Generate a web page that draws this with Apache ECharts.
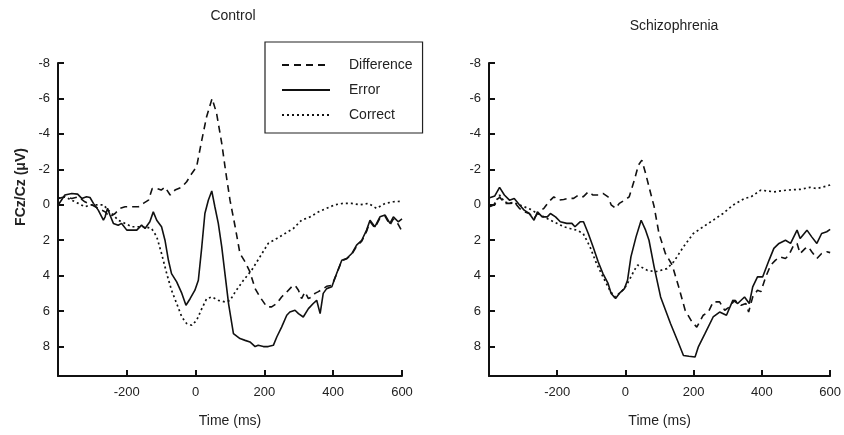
<!DOCTYPE html>
<html>
<head>
<meta charset="utf-8">
<script src="https://cdn.jsdelivr.net/npm/echarts@6/dist/echarts.min.js"></script>
<style>
  html, body { margin: 0; padding: 0; background: #fff; }
  #main { width: 844px; height: 435px; }
</style>
</head>
<body>
<div id="main"></div>
<script>
// time (ms) / amplitude (uV) pairs; negative is drawn up
var xTicks = [-200, 0, 200, 400, 600];
var yTicks = [-8, -6, -4, -2, 0, 2, 4, 6, 8];
var seriesNames = ['Difference', 'Error', 'Correct'];
var panelTitles = ['Control', 'Schizophrenia'];

var controlDifference = [[-399,-0.36],[-380,-0.45],[-360,-0.36],[-341,-0.45],[-322,-0.17],[-302,0],[-283,0.2],[-263,0.4],[-249,0.68],[-234,0.49],[-220,0.2],[-205,0.11],[-186,0.11],[-166,0.11],[-152,-0.08],[-137,-0.26],[-126,-0.92],[-113,-0.92],[-100,-0.83],[-89,-1.0],[-74,-0.55],[-60,-0.83],[-40,-1.0],[-26,-1.3],[-11,-1.77],[3,-2.15],[18,-3.65],[32,-4.97],[48,-6.0],[61,-5.16],[76,-3.47],[88,-1.8],[100,-0.26],[115,1.24],[129,2.75],[144,3.22],[158,3.79],[173,4.73],[187,5.2],[207,5.76],[221,5.76],[236,5.57],[250,5.2],[265,4.92],[279,4.63],[289,4.54],[299,4.82],[308,5.29],[318,4.92],[328,5.29],[337,5.2],[347,5.0],[357,4.9],[371,4.73],[381,4.6],[396,4.55],[410,3.9],[425,3.15],[439,3.05],[454,2.8],[468,2.35],[483,2.05],[497,1.5],[507,0.95],[521,1.3],[536,0.75],[551,0.65],[565,1.15],[575,0.8],[589,1.1],[600,1.5]];
var controlError = [[-399,0],[-380,-0.55],[-360,-0.64],[-343,-0.6],[-331,-0.36],[-317,-0.45],[-307,-0.41],[-297,-0.08],[-283,0.3],[-268,0.87],[-263,0.68],[-256,0.2],[-249,0.58],[-239,1.05],[-225,1.15],[-215,1.05],[-200,1.43],[-186,1.43],[-171,1.43],[-157,1.15],[-147,1.34],[-133,0.96],[-123,0.4],[-113,0.87],[-99,1.24],[-89,2.0],[-79,3.13],[-70,3.88],[-55,4.35],[-40,5.0],[-28,5.67],[-16,5.3],[-2,4.82],[8,4.26],[18,2.37],[27,0.49],[37,-0.26],[47,-0.78],[56,0.11],[66,1.05],[76,2.37],[86,4.0],[96,5.6],[110,7.27],[129,7.55],[144,7.65],[158,7.74],[173,8.0],[182,7.93],[197,8.0],[211,8.0],[226,7.93],[236,7.46],[250,6.9],[265,6.23],[274,6.05],[289,5.95],[299,6.14],[313,6.33],[328,5.86],[342,5.57],[352,5.39],[362,6.14],[371,5.0],[381,4.73],[396,4.63],[410,3.88],[425,3.13],[439,3.03],[454,2.75],[468,2.28],[483,2.0],[497,1.43],[507,0.87],[521,1.24],[536,0.68],[551,0.58],[565,1.05],[575,0.68],[589,0.96],[600,0.8]];
var controlCorrect = [[-399,-0.36],[-380,-0.45],[-360,-0.26],[-341,-0.08],[-322,0.11],[-302,0],[-283,0],[-268,0],[-254,0.3],[-239,0.58],[-225,0.87],[-205,1.05],[-186,1.24],[-166,1.24],[-147,1.24],[-128,1.34],[-113,1.8],[-99,2.75],[-84,3.88],[-70,4.82],[-55,5.57],[-40,6.33],[-26,6.7],[-11,6.8],[3,6.52],[18,5.86],[32,5.3],[47,5.2],[66,5.39],[85,5.48],[100,5.4],[115,4.92],[139,4.26],[163,3.69],[187,2.94],[211,2.18],[236,1.9],[260,1.62],[284,1.34],[308,0.87],[333,0.68],[357,0.4],[381,0.2],[405,0],[429,-0.08],[454,-0.08],[478,0],[502,-0.08],[526,0.2],[551,-0.08],[575,-0.17],[600,-0.2]];

var schizDifference = [[-398,0.1],[-383,0],[-369,-0.45],[-355,-0.08],[-340,-0.08],[-326,-0.17],[-311,0.2],[-297,0.4],[-282,0.49],[-268,0.77],[-254,0.4],[-239,0.2],[-225,-0.17],[-210,-0.45],[-196,-0.26],[-181,-0.3],[-167,-0.36],[-152,-0.36],[-138,-0.55],[-124,-0.45],[-109,-0.73],[-95,-0.55],[-80,-0.55],[-66,-0.64],[-51,-0.45],[-42,0],[-29,0.2],[-18,-0.08],[-3,-0.26],[11,-0.45],[26,-1.39],[38,-2.24],[48,-2.52],[59,-1.77],[74,-0.64],[84,0.1],[98,1.6],[117,2.75],[137,3.4],[156,4.63],[175,5.95],[195,6.61],[209,6.9],[228,6.23],[243,6.05],[257,5.48],[276,5.48],[291,5.95],[305,5.76],[320,5.38],[339,5.67],[353,5.57],[361,6.05],[373,5.2],[387,4.82],[397,4.9],[411,4.07],[426,3.4],[440,3.12],[454,2.94],[469,3.03],[479,2.84],[493,2.28],[503,2.18],[512,2.75],[527,2.46],[536,2.37],[546,2.65],[561,3.03],[575,2.75],[590,2.65],[600,2.7]];
var schizError = [[-398,-0.4],[-383,-0.5],[-369,-0.98],[-355,-0.55],[-340,-0.26],[-326,-0.36],[-311,0],[-297,0.3],[-282,0.49],[-268,0.87],[-258,0.4],[-244,0.68],[-229,0.68],[-220,0.49],[-205,0.68],[-191,0.96],[-172,1.05],[-157,1.05],[-148,1.24],[-133,0.96],[-123,0.96],[-109,1.62],[-95,2.37],[-80,3.22],[-66,3.88],[-51,4.44],[-42,5.0],[-29,5.29],[-18,5.0],[-3,4.73],[6,4.26],[16,2.94],[31,1.81],[46,0.87],[59,1.43],[69,2.0],[84,3.5],[103,5.2],[132,6.7],[156,7.83],[170,8.5],[186,8.55],[204,8.59],[214,8.0],[233,7.27],[257,6.33],[276,6.05],[296,6.23],[315,5.38],[329,5.57],[349,5.2],[363,5.57],[373,4.63],[387,4.07],[402,4.07],[421,3.12],[435,2.46],[450,2.18],[469,2.0],[484,2.18],[503,1.43],[512,1.9],[532,1.43],[546,1.81],[561,2.18],[575,1.62],[590,1.52],[600,1.39]];
var schizCorrect = [[-398,0.1],[-383,-0.08],[-369,-0.55],[-355,-0.17],[-340,-0.08],[-326,-0.1],[-311,0],[-297,0.11],[-278,0.26],[-258,0.49],[-239,0.68],[-220,0.87],[-200,1.05],[-181,1.24],[-162,1.34],[-143,1.43],[-124,1.62],[-104,2.37],[-85,3.31],[-66,4.07],[-46,4.82],[-32,5.2],[-18,5.0],[-3,4.73],[11,4.26],[26,3.69],[36,3.4],[50,3.55],[64,3.7],[88,3.78],[122,3.6],[142,3.2],[170,2.37],[199,1.62],[228,1.24],[257,0.87],[286,0.49],[315,0.02],[320,-0.08],[349,-0.36],[368,-0.45],[397,-0.83],[435,-0.73],[474,-0.83],[512,-0.87],[541,-0.98],[561,-0.92],[590,-1.06],[600,-1.12]];

var FONT = '"Liberation Sans", Arial, sans-serif';
var INK = '#111';

var lineStyles = {
  Difference: { color: INK, width: 1.6, type: [7, 5] },
  Error: { color: INK, width: 1.6, type: 'solid' },
  Correct: { color: INK, width: 1.7, type: [2, 3] }
};

function makeX(idx) {
  return {
    type: 'value', gridIndex: idx, min: -400, max: 600, interval: 200,
    name: 'Time (ms)', nameLocation: 'middle', nameGap: 38,
    nameTextStyle: { fontSize: 14, color: '#222', fontFamily: FONT },
    axisLine: { show: true, onZero: false, lineStyle: { color: INK, width: 2 } },
    axisTick: { show: true, inside: true, length: 6, lineStyle: { color: INK, width: 2 } },
    axisLabel: {
      color: '#222', fontSize: 13, margin: 10, fontFamily: FONT,
      formatter: function (v) { return xTicks.indexOf(v) >= 0 ? String(v) : ''; }
    },
    splitLine: { show: false }
  };
}

function makeY(idx) {
  return {
    type: 'value', gridIndex: idx, inverse: true, min: -8, max: 9.66, interval: 2,
    axisLine: { show: true, onZero: false, lineStyle: { color: INK, width: 2 } },
    axisTick: { show: true, inside: true, length: 6, lineStyle: { color: INK, width: 2 } },
    axisLabel: {
      color: '#222', fontSize: 13, margin: 8, fontFamily: FONT,
      formatter: function (v) { return yTicks.indexOf(v) >= 0 ? String(v) : ''; }
    },
    splitLine: { show: false }
  };
}

function makeLine(name, data, idx) {
  return {
    name: name, type: 'line', xAxisIndex: idx, yAxisIndex: idx,
    data: data, symbol: 'none', silent: true, animation: false,
    lineStyle: lineStyles[name], itemStyle: { color: INK }
  };
}

var chart = echarts.init(document.getElementById('main'));
chart.setOption({
  backgroundColor: '#fff',
  textStyle: { fontFamily: FONT },
  animation: false,
  grid: [
    { left: 58, top: 63, width: 344, height: 313 },
    { left: 489, top: 63, width: 345, height: 313 }
  ],
  xAxis: [makeX(0), makeX(1)],
  yAxis: [makeY(0), makeY(1)],
  legend: {
    data: seriesNames, orient: 'vertical', left: 265, top: 42,
    itemWidth: 48, itemHeight: 14, itemGap: 11,
    padding: [16, 10, 11, 16],
    borderColor: '#222', borderWidth: 1.2,
    selectedMode: false,
    // hide the marker dot that line legends draw on top of the stroke
    itemStyle: { color: 'rgba(0,0,0,0)', borderWidth: 0, opacity: 0 },
    textStyle: { fontSize: 14, color: '#222', fontFamily: FONT, padding: [0, 0, 0, 14] }
  },
  graphic: [
    { type: 'text', x: 233, y: 16, style: { text: panelTitles[0], font: '14px ' + FONT, fill: '#222', align: 'center', verticalAlign: 'middle' } },
    { type: 'text', x: 674, y: 26, style: { text: panelTitles[1], font: '14px ' + FONT, fill: '#222', align: 'center', verticalAlign: 'middle' } },
    { type: 'text', x: 21, y: 187, rotation: Math.PI / 2, style: { text: 'FCz/Cz (μV)', font: 'bold 14px ' + FONT, fill: '#222', align: 'center', verticalAlign: 'middle' } }
  ],
  series: [
    makeLine('Difference', controlDifference, 0),
    makeLine('Error', controlError, 0),
    makeLine('Correct', controlCorrect, 0),
    makeLine('Difference', schizDifference, 1),
    makeLine('Error', schizError, 1),
    makeLine('Correct', schizCorrect, 1)
  ]
});
</script>
</body>
</html>
